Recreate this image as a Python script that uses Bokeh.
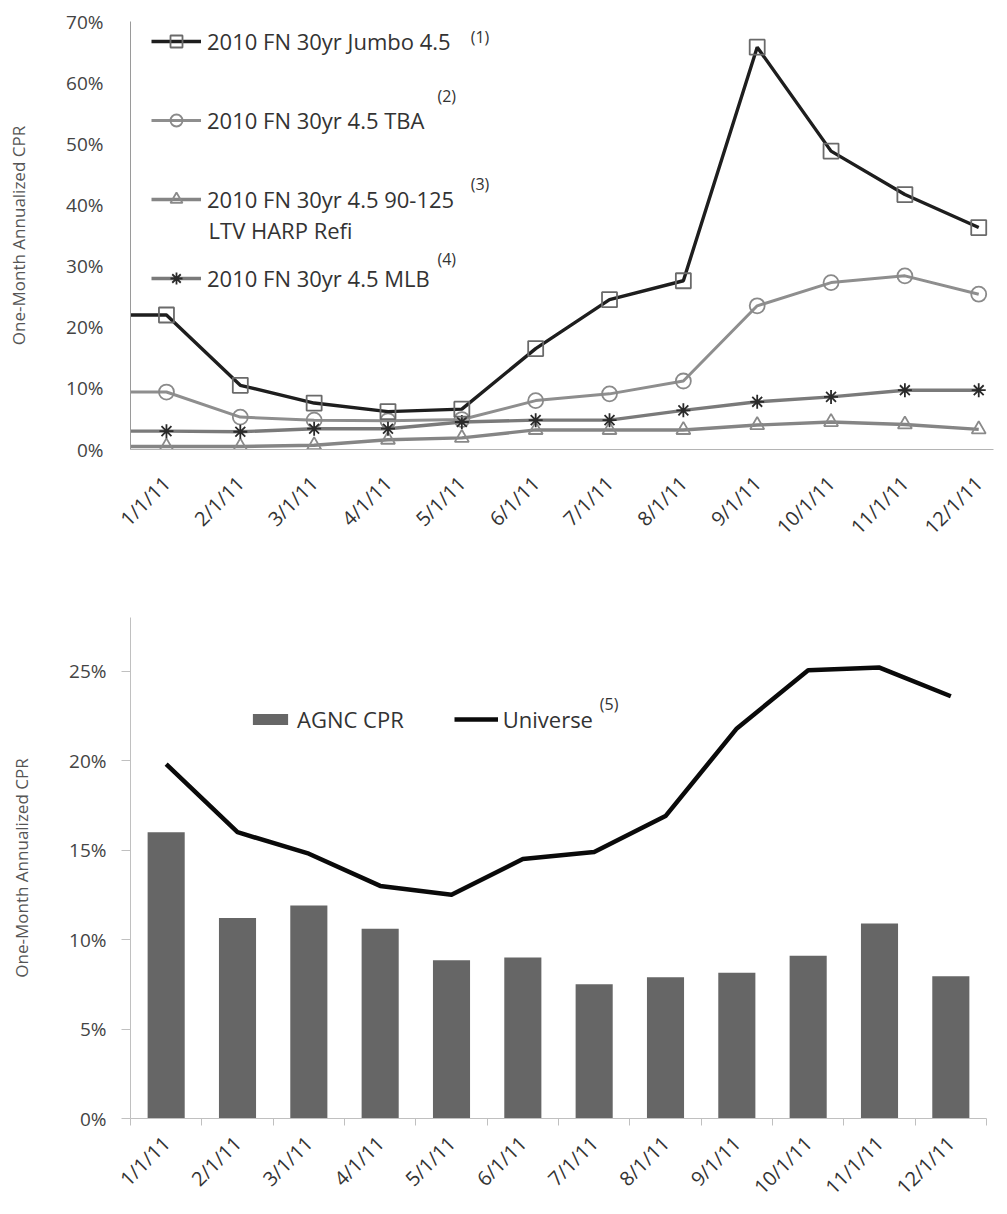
from bokeh.plotting import figure
from bokeh.models import (Range1d, FixedTicker, PrintfTickFormatter, Legend, LegendItem, Label)
from bokeh.layouts import column
from bokeh.embed import file_html
from bokeh.resources import INLINE
from math import pi

# ---------------- data ----------------
months = ["1/1/11", "2/1/11", "3/1/11", "4/1/11", "5/1/11", "6/1/11",
          "7/1/11", "8/1/11", "9/1/11", "10/1/11", "11/1/11", "12/1/11"]

# top chart (One-Month Annualized CPR, %)
jumbo = [22.0, 10.5, 7.6, 6.2, 6.6, 16.5, 24.5, 27.6, 65.8, 48.8, 41.7, 36.3]
tba = [9.4, 5.3, 4.8, 4.7, 4.9, 8.0, 9.1, 11.2, 23.5, 27.3, 28.4, 25.4]
harp = [0.5, 0.5, 0.7, 1.6, 1.9, 3.2, 3.2, 3.2, 4.0, 4.5, 4.1, 3.3]
mlb = [3.0, 2.9, 3.4, 3.4, 4.5, 4.8, 4.8, 6.4, 7.8, 8.6, 9.7, 9.7]

top_labels = ["2010 FN 30yr Jumbo 4.5", "2010 FN 30yr 4.5 TBA",
              "2010 FN 30yr 4.5 90-125", "2010 FN 30yr 4.5 MLB"]
top_label_extra = "LTV HARP Refi"
top_notes = ["(1)", "(2)", "(3)", "(4)"]
top_yticks = [0, 10, 20, 30, 40, 50, 60, 70]

# bottom chart
agnc = [16.0, 11.2, 11.9, 10.6, 8.85, 9.0, 7.5, 7.9, 8.15, 9.1, 10.9, 7.95]
universe = [19.8, 16.0, 14.8, 13.0, 12.5, 14.5, 14.9, 16.9, 21.8, 25.05, 25.2, 23.6]
bottom_labels = ["AGNC CPR", "Universe"]
bottom_note = "(5)"
bottom_yticks = [0, 5, 10, 15, 20, 25]

y_title = "One-Month Annualized CPR"

FONT = "Open Sans"
xs = list(range(len(months)))
overrides = {i: m for i, m in enumerate(months)}


def style_xaxis(p, standoff, color):
    p.xaxis.major_label_overrides = overrides
    p.xaxis.major_label_orientation = pi / 4
    p.xaxis.major_tick_out = 0
    p.xaxis.major_tick_in = 0
    p.xaxis.minor_tick_in = 0
    p.xaxis.axis_line_color = color
    p.xaxis.major_label_text_font = FONT
    p.xaxis.major_label_text_font_size = "20px"
    p.xaxis.major_label_text_color = "#333333"
    p.xaxis.major_label_standoff = standoff


def style_yaxis(p, ticks, tick_out, standoff, color):
    p.yaxis.ticker = FixedTicker(ticks=ticks)
    p.yaxis.formatter = PrintfTickFormatter(format="%d%%")
    p.yaxis.major_tick_out = tick_out
    p.yaxis.major_tick_in = 0
    p.yaxis.minor_tick_out = 0
    p.yaxis.minor_tick_in = 0
    p.yaxis.major_tick_line_color = color
    p.yaxis.axis_line_color = color
    p.yaxis.major_label_text_font = FONT
    p.yaxis.major_label_text_font_size = "19px"
    p.yaxis.major_label_text_color = "#444444"
    p.yaxis.major_label_standoff = standoff
    p.yaxis.axis_label = y_title
    p.yaxis.axis_label_text_font = FONT
    p.yaxis.axis_label_text_font_size = "17px"
    p.yaxis.axis_label_text_font_style = "normal"
    p.yaxis.axis_label_text_color = "#555555"
    p.yaxis.axis_label_standoff = 33


# ---------------- top figure ----------------
x0_top = -0.487
p1 = figure(width=1007, height=562, output_backend="svg", toolbar_location=None,
            x_range=Range1d(x0_top, 11.2), y_range=Range1d(0, 70),
            min_border_left=130, min_border_right=13, min_border_top=21,
            min_border_bottom=113)
p1.outline_line_color = None
p1.xgrid.visible = False
p1.ygrid.visible = False


def ext(vals):
    return [x0_top] + xs, [vals[0]] + vals


specs = [
    (jumbo, "#1e1e1e", 3.4, "square", "#6a6a6a", 15),
    (tba, "#8e8e8e", 3.0, "circle", "#8a8a8a", 15),
    (harp, "#858585", 3.4, "triangle", "#8a8a8a", 14),
    (mlb, "#7a7a7a", 3.4, "asterisk", "#2a2a2a", 14),
]
renders = []
for (vals, lc, lw, mk, mc, ms), lab in zip(specs, top_labels):
    lx, ly = ext(vals)
    lr = p1.line(lx, ly, line_color=lc, line_width=lw)
    sr = p1.scatter(xs, vals, marker=mk, size=ms, line_color=mc, line_width=1.8,
                    fill_color=None)
    renders.append((lr, sr, lab))
p1.renderers = p1.renderers[2:] + p1.renderers[:2]   # jumbo drawn last
items = [LegendItem(label=lab, renderers=[lr, sr]) for lr, sr, lab in renders]

leg1 = Legend(items=items, location=(21, 156), orientation="vertical",
              glyph_width=50, glyph_height=30, label_height=30, spacing=49,
              padding=0, margin=0, border_line_color=None,
              background_fill_alpha=0, label_standoff=6,
              label_text_font=FONT, label_text_font_size="22px",
              label_text_color="#333333")
p1.add_layout(leg1)

for txt, (x, y) in zip(top_notes, [(4.12, 67.5), (3.67, 57.8), (4.12, 43.4), (3.67, 31.2)]):
    p1.add_layout(Label(x=x, y=y, text=txt, text_font=FONT, text_font_size="16px",
                        text_color="#333333", text_baseline="middle", text_align="left"))
p1.add_layout(Label(x=0.57, y=35.9, text=top_label_extra, text_font=FONT,
                    text_font_size="22px", text_color="#333333",
                    text_baseline="middle", text_align="left"))

p1.xaxis.ticker = FixedTicker(ticks=xs)
p1.xaxis.minor_tick_out = 0
style_xaxis(p1, 30, "#b4b4b4")
style_yaxis(p1, top_yticks, 0, 27, "#9a9a9a")

# ---------------- bottom figure ----------------
p2 = figure(width=1000, height=651, output_backend="svg", toolbar_location=None,
            x_range=Range1d(-0.5, 11.5), y_range=Range1d(0, 28),
            min_border_left=127, min_border_right=14, min_border_top=55,
            min_border_bottom=95)
p2.outline_line_color = None
p2.xgrid.visible = False
p2.ygrid.visible = False

br = p2.vbar(x=xs, top=agnc, width=0.52, bottom=0, fill_color="#666666", line_color=None)
ur = p2.line(xs, universe, line_color="#0a0a0a", line_width=4.5, line_join="round")

leg2 = Legend(items=[LegendItem(label=bottom_labels[0], renderers=[br]),
                     LegendItem(label=bottom_labels[1], renderers=[ur])],
              location=(118, 384), orientation="horizontal",
              glyph_width=44, glyph_height=14, spacing=50, padding=0, margin=0,
              border_line_color=None, background_fill_alpha=0, label_standoff=5,
              label_text_font=FONT, label_text_font_size="22px",
              label_text_color="#333333")
p2.add_layout(leg2)
p2.add_layout(Label(x=6.08, y=23.16, text=bottom_note, text_font=FONT, text_font_size="16px",
                    text_color="#333333", text_baseline="middle", text_align="left"))

p2.xaxis.ticker = FixedTicker(ticks=xs, minor_ticks=[i - 0.5 for i in range(len(months) + 1)])
p2.xaxis.minor_tick_out = 7
p2.xaxis.minor_tick_line_color = "#c0c0c0"
style_xaxis(p2, 14, "#c0c0c0")
style_yaxis(p2, bottom_yticks, 9, 15, "#c0c0c0")

layout = column(p1, p2, spacing=0)
open("out.html", "w").write(file_html(layout, INLINE))
